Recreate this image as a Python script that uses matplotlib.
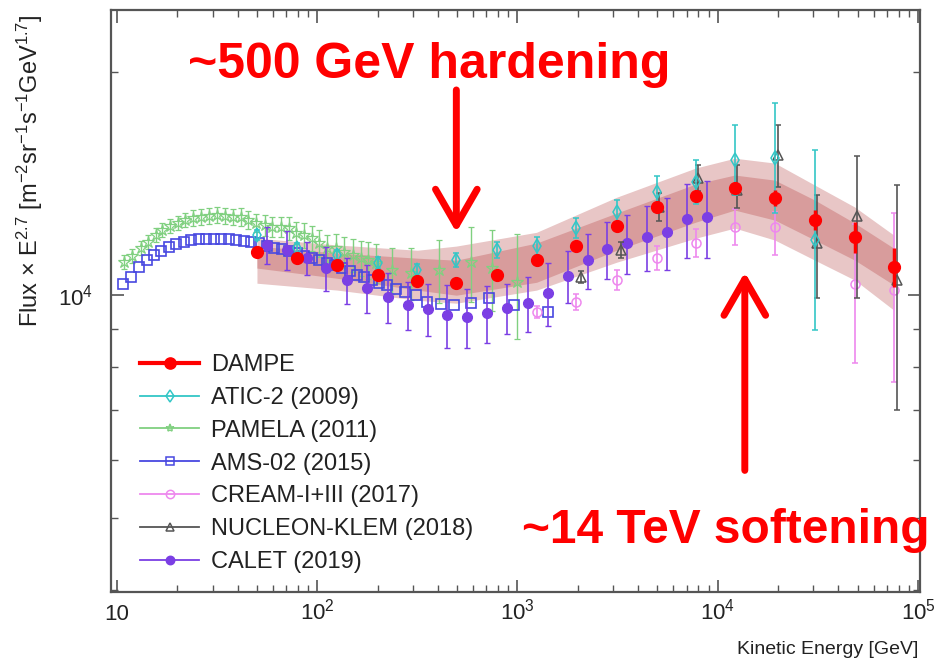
import numpy as np
import matplotlib
matplotlib.use("Agg")
import matplotlib.pyplot as plt
from matplotlib.lines import Line2D
from matplotlib.ticker import LogLocator, NullFormatter

plt.rcParams['font.family'] = 'Liberation Sans'
plt.rcParams['mathtext.fontset'] = 'custom'
plt.rcParams['mathtext.rm'] = 'Liberation Sans'
plt.rcParams['mathtext.it'] = 'Liberation Sans:italic'
plt.rcParams['mathtext.bf'] = 'Liberation Sans:bold'

# ---- data (E in GeV, flux x E^2.7) ----
dampe_E = [50.1, 79.4, 126, 200, 316, 495, 794, 1245, 1970, 3126, 4955, 7762, 12160, 19280, 30550, 48400, 75860]
dampe_F = [11430, 11220, 10980, 10640, 10440, 10380, 10640, 11150, 11650, 12390, 13150, 13600, 13950, 13520, 12630, 11980, 10910]
dampe_err = [70, 70, 70, 70, 70, 70, 70, 105, 110, 116, 164, 213, 262, 340, 399, 573, 664]

band_E = [50, 126, 316, 495, 1245, 3126, 7762, 12160, 19280, 30550, 48400, 75860]
band_out_hi = [11940, 11690, 11500, 11650, 12160, 13560, 14850, 15310, 15080, 14080, 13150, 12050]
band_out_lo = [10380, 10160, 9845, 9754, 10160, 11080, 11940, 12320, 11870, 11150, 10480, 9544]
band_in_hi = [11650, 11400, 11220, 11150, 11760, 12910, 14130, 14530, 14300, 13440, 12510, 11570]
band_in_lo = [10880, 10540, 10160, 10000, 10410, 11500, 12550, 13030, 12630, 11870, 11150, 10320]

atic_E = [50.1, 79.4, 126, 200, 316, 495, 794, 1245, 1970, 3126, 4955, 7762, 12160, 19280, 30550]
atic_F = [12050, 11570, 11330, 11050, 10810, 11150, 11500, 11650, 12320, 12950, 13780, 14210, 15220, 15310, 11870]
atic_lo = [187, 179, 176, 204, 200, 241, 283, 322, 377, 474, 670, 941, 1568, 2404, 2896]
atic_hi = [189, 182, 178, 208, 203, 245, 290, 331, 389, 492, 703, 1007, 1750, 2863, 3834]

pamela_E = [10.8, 11.9, 13.2, 14.3, 15.7, 16.8, 18.4, 20.2, 21.9, 24.0, 26.3, 28.8, 31.6, 34.7, 38.0,
            41.7, 45.2, 49.5, 55.0, 59.6, 66.1, 72.4, 78.5, 86.1, 94.4, 102, 112, 124, 136, 150,
            166, 180, 197, 237, 295, 407, 589, 750, 1000]
pamela_F = [11080, 11290, 11570, 11790, 12050, 12240, 12390, 12510, 12630, 12710, 12750, 12790, 12830, 12790, 12750,
            12750, 12630, 12510, 12430, 12360, 12360, 12320, 12130, 12050, 11940, 11760, 11570, 11570, 11430, 11330,
            11220, 11150, 11050, 10810, 10710, 10810, 11080, 10880, 10410]
pamela_err = [244, 248, 255, 259, 265, 269, 273, 275, 278, 320, 321, 322, 323, 322, 321,
              362, 359, 355, 393, 391, 391, 429, 422, 458, 454, 486, 478, 515, 546, 578,
              609, 642, 673, 765, 865, 1059, 1274, 1365, 1676]

ams_E = [10.7, 11.7, 12.9, 14.1, 15.3, 16.6, 18.2, 19.7, 21.6, 23.4, 25.7, 27.9, 30.5, 33.1, 36.3, 39.4,
         43.2, 46.8, 51.3, 56.2, 61.0, 66.8, 72.4, 79.4, 86.1, 94.4, 102, 112, 122, 133, 145, 158,
         172, 188, 204, 224, 248, 275, 313, 355, 417, 484, 589, 724, 966, 1413]
ams_F = [10350, 10580, 10910, 11150, 11330, 11470, 11610, 11720, 11790, 11870, 11900, 11900, 11900, 11900, 11900, 11870,
         11830, 11790, 11760, 11650, 11570, 11540, 11470, 11400, 11290, 11220, 11150, 11050, 10980, 10880, 10770, 10640,
         10580, 10480, 10380, 10320, 10190, 10090, 10000, 9784, 9723, 9694, 9754, 9907, 9694, 9485]

cream_E = [1245, 1970, 3126, 4955, 7762, 12160, 19280, 48400, 75860]
cream_F = [9485, 9784, 10480, 11220, 11760, 12360, 12360, 10350, 10160]
cream_lo = [175, 241, 321, 411, 501, 672, 1031, 2256, 2530]
cream_hi = [178, 247, 331, 426, 523, 712, 591, 2122, 2754]

nucleon_E = [2065, 3273, 5070, 7943, 12450, 19950, 31260, 49550, 78520]
nucleon_F = [10580, 11500, 13150, 14390, 13870, 15460, 11760, 12790, 10480]
nucleon_lo = [196, 283, 560, 570, 755, 1464, 1846, 2878, 3490]
nucleon_hi = [199, 290, 585, 594, 1123, 1512, 1893, 2622, 3605]

calet_E = [56.2, 70.8, 89.1, 111, 140, 178, 226, 285, 359, 447, 562, 708, 891, 1122, 1413,
           1778, 2239, 2786, 3508, 4416, 5559, 6998, 8810]
calet_F = [11690, 11500, 11220, 10880, 10480, 10220, 9938, 9694, 9574, 9397, 9340, 9455, 9603, 9754, 10060,
           10610, 11150, 11540, 11760, 11980, 12160, 12670, 12750]
calet_err = [670, 700, 570, 735, 742, 758, 771, 719, 775, 919, 850, 829, 745, 822, 984,
             858, 940, 1012, 1070, 1211, 1357, 1458, 1512]

labels = ['DAMPE', 'ATIC-2 (2009)', 'PAMELA (2011)', 'AMS-02 (2015)',
          'CREAM-I+III (2017)', 'NUCLEON-KLEM (2018)', 'CALET (2019)']
colors = ['#ff0000', '#33c6c6', '#80d080', '#4848e0', '#ee88ee', '#555555', '#7b3fe4']

fig = plt.figure(figsize=(9.5, 6.64), dpi=100)
ax = fig.add_axes([0.1168, 0.1084, 0.8516, 0.8765])

# DAMPE band
ax.fill_between(band_E, band_out_lo, band_out_hi, color='#e8c6c6', lw=0, zorder=1)
ax.fill_between(band_E, band_in_lo, band_in_hi, color='#d89c9c', lw=0, zorder=1.5)

ax.plot(ams_E, ams_F, ls='none', marker='s', ms=7.5, mfc='none', mec=colors[3], mew=1.2, zorder=3)
ax.errorbar(pamela_E, pamela_F, yerr=pamela_err, fmt='*', ms=9, mfc='none', mec=colors[2], mew=0.9,
            ecolor=colors[2], elinewidth=1, capsize=2, zorder=2.5)
ax.errorbar(calet_E, calet_F, yerr=calet_err, fmt='o', ms=7, color=colors[6],
            ecolor=colors[6], elinewidth=1.2, capsize=2, zorder=4)
ax.errorbar(cream_E, cream_F, yerr=[cream_lo, cream_hi], fmt='o', ms=6.5, mfc='none', mec=colors[4], mew=1.1,
            ecolor=colors[4], elinewidth=1.2, capsize=2, zorder=4)
ax.errorbar(nucleon_E, nucleon_F, yerr=[nucleon_lo, nucleon_hi], fmt='^', ms=7, mfc='none', mec=colors[5], mew=1.1,
            ecolor=colors[5], elinewidth=1.2, capsize=2, zorder=4.5)
ax.errorbar(atic_E, atic_F, yerr=[atic_lo, atic_hi], fmt='d', ms=7, mfc='none', mec=colors[1], mew=1.1,
            ecolor=colors[1], elinewidth=1.2, capsize=2, zorder=5)
ax.errorbar(dampe_E, dampe_F, yerr=dampe_err, fmt='o', ms=8.5, color=colors[0],
            ecolor=colors[0], elinewidth=2.5, capsize=0, zorder=6)

ax.set_xscale('log')
ax.set_yscale('log')
ax.set_xlim(9.33, 102300)
ax.set_ylim(3974, 24270)

ax.set_xticks([10, 100, 1000, 10000, 100000], ['10', '$10^2$', '$10^3$', '$10^4$', '$10^5$'])
ax.xaxis.set_minor_locator(LogLocator(base=10, subs=np.arange(2, 10)))
ax.xaxis.set_minor_formatter(NullFormatter())
ax.set_yticks([10000], ['$10^4$'])
ax.yaxis.set_minor_locator(LogLocator(base=10, subs=np.arange(2, 10)))
ax.yaxis.set_minor_formatter(NullFormatter())
ax.tick_params(which='both', direction='in', top=True, right=True, colors='#555555',
               labelcolor='#222222', labelsize=16)
ax.tick_params(which='major', length=9, width=1.2)
ax.tick_params(axis='x', which='major', pad=20)
ax.tick_params(axis='y', which='major', pad=13)
ax.tick_params(which='minor', length=5, width=1.0)
for lbl in ax.get_xticklabels():
    lbl.set_va('baseline')
for s in ax.spines.values():
    s.set_color('#555555')
    s.set_linewidth(1.6)

fig.text(30 / 950, 1 - 171 / 664,
         r'Flux $\times$ E$^{2.7}$ [m$^{-2}$sr$^{-1}$s$^{-1}$GeV$^{1.7}$]',
         rotation=90, ha='center', va='center', fontsize=17, color='#222222')
fig.text(918 / 950, 1 - 650 / 664, 'Kinetic Energy [GeV]', ha='right', va='center',
         fontsize=14, color='#222222')

# legend
handles = []
mk = ['o', 'd', '*', 's', 'o', '^', 'o']
for i, lab in enumerate(labels):
    filled = i in (0, 6)
    handles.append(Line2D([], [], color=colors[i], lw=3 if i == 0 else 1.3, marker=mk[i],
                          ms=8 if i == 0 else 6, mfc=colors[i] if filled else 'none',
                          mec=colors[i], mew=1.1))
ax.legend(handles, labels, loc='upper left', bbox_to_anchor=(0.036, 0.409), frameon=False,
          fontsize=17, handlelength=2.5, handletextpad=0.5, labelspacing=0.46,
          borderaxespad=0, borderpad=0, labelcolor='#222222')

# annotations
ax.annotate('', xy=(495, 12160), xytext=(495, 18930),
            arrowprops=dict(arrowstyle='->,head_length=1.3,head_width=0.75', lw=5,
                            color='#ff0000', mutation_scale=20, shrinkA=0, shrinkB=0))
ax.annotate('', xy=(13650, 10740), xytext=(13650, 5800),
            arrowprops=dict(arrowstyle='->,head_length=1.3,head_width=0.75', lw=5,
                            color='#ff0000', mutation_scale=20, shrinkA=0, shrinkB=0))
fig.text(188 / 950, 1 - 78 / 664, '~500 GeV hardening', color='#ff0000', fontsize=36,
         fontweight='bold', va='baseline', ha='left')
fig.text(522 / 950, 1 - 543 / 664, '~14 TeV softening', color='#ff0000', fontsize=34.5,
         fontweight='bold', va='baseline', ha='left')

fig.savefig('out.png', dpi=100)
